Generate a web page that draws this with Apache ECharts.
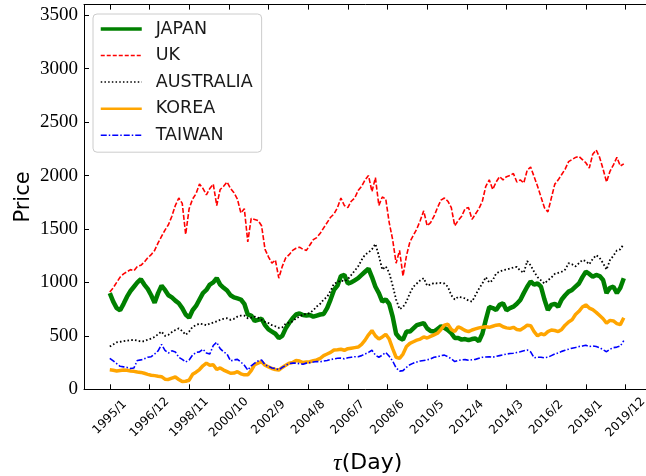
<!DOCTYPE html>
<html>
<head>
<meta charset="utf-8">
<script src="https://cdn.jsdelivr.net/npm/echarts@6/dist/echarts.min.js"></script>
<style>
  html, body { margin: 0; padding: 0; background: #ffffff; }
  #chart { width: 646px; height: 476px; }
</style>
</head>
<body>
<div id="chart"></div>
<script>
// Bottom-axis tick labels (year/month)
const tickLabels = ['1995/1', '1996/12', '1998/11', '2000/10', '2002/9', '2004/8', '2006/7',
  '2008/6', '2010/5', '2012/4', '2014/3', '2016/2', '2018/1', '2019/12'];
// Left-axis tick labels
const priceTicks = [0, 500, 1000, 1500, 2000, 2500, 3000, 3500];

// Index levels sampled every second month from 1995/1 (six samples per year)
const japan = [
  900, 820, 760, 740, 800, 867,
  920, 960, 1000, 1030, 980, 940,
  880, 810, 900, 970, 930, 880,
  860, 830, 805, 760, 700, 670,
  740, 780, 840, 900, 930, 980,
  1000, 1040, 980, 950, 925, 880,
  860, 850, 840, 800, 700, 690,
  640, 650, 660, 600, 560, 540,
  520, 480, 500, 570, 620, 665,
  700, 710, 695, 690, 695, 680,
  690, 700, 705, 760, 840, 930,
  970, 1060, 1070, 990, 1000, 1020,
  1040, 1070, 1100, 1130, 1050, 960,
  900, 820, 840, 800, 680, 520,
  480, 465, 540, 540, 570, 600,
  610, 620, 570, 545, 540, 565,
  590, 575, 555, 525, 480, 480,
  465, 470, 460, 470, 475, 450,
  520, 650, 770, 760, 742, 790,
  805, 740, 760, 773, 800, 836,
  900, 960, 1010, 980, 990, 960,
  840, 742, 790, 800, 773, 840,
  880, 914, 930, 960, 990, 1050,
  1100, 1080, 1054, 1070, 1060, 1023,
  900, 950, 960, 900, 950, 1040
];
const uk = [
  910, 950, 1000, 1050, 1080, 1100,
  1120, 1110, 1150, 1160, 1190, 1230,
  1260, 1300, 1370, 1430, 1490, 1540,
  1620, 1720, 1790, 1740, 1450, 1690,
  1780, 1830, 1920, 1880, 1820, 1880,
  1920, 1720, 1870, 1900, 1940, 1880,
  1840, 1780, 1650, 1690, 1380, 1600,
  1590, 1580, 1530, 1310, 1240, 1180,
  1210, 1040, 1150, 1230, 1260, 1300,
  1320, 1330, 1310, 1300, 1350, 1400,
  1420, 1460, 1510, 1560, 1610, 1640,
  1700, 1790, 1720, 1700, 1760, 1790,
  1860, 1900, 1960, 2000, 1850, 1980,
  1720, 1800, 1780, 1560, 1400, 1180,
  1300, 1060, 1250, 1380, 1440, 1500,
  1580, 1670, 1530, 1560, 1620, 1700,
  1770, 1790, 1760, 1700, 1530, 1580,
  1620, 1690, 1700, 1590, 1640, 1690,
  1760, 1900, 1960, 1870, 1940, 1990,
  1960, 1990, 2000, 2020, 1940, 1960,
  1930, 2050, 2080, 1990, 1900, 1800,
  1700, 1660, 1790, 1920, 1960, 2010,
  2060, 2130, 2150, 2170, 2180, 2150,
  2120, 2070, 2200, 2240, 2170, 2060,
  1940, 2040, 2100, 2170, 2090, 2110
];
const australia = [
  400, 420, 440, 445, 450, 455,
  460, 462, 455, 448, 450, 465,
  475, 490, 515, 540, 500, 510,
  535, 555, 570, 545, 510, 540,
  585, 600, 615, 610, 600, 615,
  625, 635, 650, 660, 665, 650,
  660, 680, 690, 690, 665, 670,
  680, 670, 650, 630, 620, 600,
  590, 575, 580, 615, 625, 635,
  665, 680, 700, 705, 715, 740,
  775, 800, 840, 865, 920, 990,
  1000, 1020, 1010, 1030, 1070, 1110,
  1150, 1210, 1260, 1280, 1310, 1360,
  1250, 1120, 1150, 1090, 970, 840,
  750, 770, 820, 900, 960, 990,
  1020, 1040, 970, 980, 995, 990,
  995, 990, 960, 880, 840, 865,
  860, 850, 830, 820, 880, 940,
  990, 1050, 1000, 1020, 1085, 1100,
  1115, 1120, 1130, 1140, 1145, 1110,
  1090, 1200, 1160, 1100, 1050, 1020,
  990, 1020, 1045, 1080, 1090, 1100,
  1120, 1180, 1170, 1150, 1180, 1210,
  1200, 1170, 1220, 1255, 1230, 1180,
  1120, 1210, 1250, 1300, 1310, 1360
];
const korea = [
  182, 178, 172, 176, 180, 178,
  172, 168, 162, 158, 150, 140,
  132, 128, 122, 118, 95, 92,
  105, 115, 92, 72, 75, 85,
  140, 160, 185, 220, 245, 225,
  230, 185, 200, 180, 165, 150,
  152, 165, 145, 135, 135, 175,
  230, 245, 258, 225, 210, 195,
  185, 180, 205, 225, 245, 250,
  270, 265, 250, 255, 258, 268,
  275, 290, 315, 330, 345, 368,
  370, 375, 365, 380, 385, 390,
  395, 420, 460, 510, 550, 500,
  470, 490, 515, 470, 380, 300,
  290, 330, 400, 430, 445, 460,
  470, 490, 480, 495, 510, 525,
  560, 600, 610, 560, 540, 585,
  570, 550, 540, 555, 565, 575,
  580, 585, 580, 590, 600, 605,
  585, 575, 570, 580, 560, 555,
  575, 600, 595, 540, 500, 520,
  510, 540, 555, 550, 540, 560,
  600, 630, 650, 700, 730, 770,
  790, 760, 745, 720, 690, 660,
  620, 645, 640, 615, 605, 670
];
const taiwan = [
  290, 265, 240, 215, 210, 205,
  195, 200, 270, 275, 285, 300,
  305, 330, 360, 420, 365, 340,
  360, 350, 300, 280, 255, 275,
  320, 345, 350, 375, 340, 330,
  410, 440, 380, 350, 330, 265,
  275, 280, 255, 225, 180, 220,
  245, 265, 275, 230, 215, 200,
  195, 182, 205, 225, 240, 245,
  245, 240, 235, 245, 250, 255,
  260, 258, 265, 270, 278, 285,
  290, 292, 285, 295, 300, 305,
  305, 315, 330, 345, 365, 320,
  300, 320, 345, 310, 265, 200,
  170, 175, 205, 230, 245, 255,
  265, 270, 275, 285, 300, 305,
  315, 320, 305, 285, 260, 270,
  275, 278, 272, 276, 280, 290,
  300, 302, 305, 300, 308, 315,
  322, 330, 335, 338, 345, 352,
  360, 368, 350, 295, 300, 300,
  295, 300, 315, 330, 340, 355,
  365, 375, 385, 392, 400, 405,
  412, 400, 405, 400, 390, 370,
  352, 375, 390, 395, 405, 455
];

// Month offset from 1995/1 for a "year/month" label
function monthIndex(label) {
  const parts = label.split('/').map(Number);
  return (parts[0] - 1995) * 12 + parts[1] - 1;
}
const tickMonths = tickLabels.map(monthIndex);
const sampleMonth = i => i * 2;
const toPoints = arr => arr.map((v, i) => [sampleMonth(i), v]);

const black = '#000000';
const xMin = -14.95, xMax = 313.95;

const chart = echarts.init(document.getElementById('chart'), null, { renderer: 'canvas' });

const frameLine = { show: true, onZero: false, lineStyle: { color: black, width: 1 } };
const noMarker = { opacity: 0 };

const option = {
  animation: false,
  backgroundColor: '#ffffff',
  textStyle: { fontFamily: 'DejaVu Sans' },
  grid: { left: 84, right: -5.3, top: 4.6, bottom: 86.7, containLabel: false, outerBoundsMode: 'none' },
  legend: {
    orient: 'vertical',
    left: 93,
    top: 14,
    padding: [6, 9, 8, 6],
    itemGap: 8.55,
    itemWidth: 41,
    itemHeight: 18,
    backgroundColor: 'rgba(255,255,255,0.8)',
    borderColor: '#cccccc',
    borderWidth: 1,
    borderRadius: 4,
    selectedMode: false,
    formatter: name => '{s|}{n|' + name + '}',
    textStyle: {
      rich: {
        s: { width: 9 },
        n: { fontFamily: 'DejaVu Sans', fontSize: 17.5, lineHeight: 18, color: '#1a1a1a' }
      }
    },
    data: [
      { name: 'JAPAN', itemStyle: noMarker, lineStyle: { width: 3.5 } },
      { name: 'UK', itemStyle: noMarker, lineStyle: { width: 1.5, type: [4, 2] } },
      { name: 'AUSTRALIA', itemStyle: noMarker, lineStyle: { width: 1.5, type: [1.5, 2.2] } },
      { name: 'KOREA', itemStyle: noMarker, lineStyle: { width: 2.5 } },
      { name: 'TAIWAN', itemStyle: noMarker, lineStyle: { width: 1.5, type: [6, 2, 1.5, 2] } }
    ]
  },
  xAxis: [
    {
      type: 'value', position: 'bottom', min: xMin, max: xMax,
      axisLine: frameLine,
      axisTick: { show: true, inside: true, length: 5, customValues: tickMonths, lineStyle: { color: black, width: 1 } },
      axisLabel: {
        show: true, customValues: tickMonths,
        formatter: v => { const k = tickMonths.indexOf(Math.round(v)); return k >= 0 ? tickLabels[k] : ''; },
        rotate: 45, align: 'center', verticalAlign: 'middle', margin: 28,
        fontFamily: 'DejaVu Sans', fontSize: 12, color: black
      },
      splitLine: { show: false },
      name: '{t|τ}{d|(Day)}',
      nameLocation: 'middle',
      nameGap: 62,
      nameMoveOverlap: false,
      nameTextStyle: {
        rich: {
          t: { fontFamily: 'Liberation Serif', fontStyle: 'italic', fontSize: 24, color: black },
          d: { fontFamily: 'DejaVu Sans', fontSize: 22, color: black }
        }
      }
    },
    {
      type: 'value', position: 'top', min: xMin, max: xMax,
      axisLine: frameLine,
      axisTick: { show: true, inside: true, length: 5, customValues: tickMonths, lineStyle: { color: black, width: 1 } },
      axisLabel: { show: false },
      splitLine: { show: false }
    }
  ],
  yAxis: [
    {
      type: 'value', position: 'left', min: 0, max: 3600,
      axisLine: frameLine,
      axisTick: { show: true, inside: true, length: 5, customValues: priceTicks, lineStyle: { color: black, width: 1 } },
      axisLabel: {
        show: true, customValues: priceTicks, margin: 6,
        formatter: v => String(v),
        fontFamily: 'Liberation Serif', fontSize: 19, color: black
      },
      splitLine: { show: false },
      name: 'Price',
      nameLocation: 'middle',
      nameGap: 50,
      nameMoveOverlap: false,
      nameTextStyle: { fontFamily: 'DejaVu Sans', fontSize: 21, color: black }
    },
    {
      type: 'value', position: 'right', min: 0, max: 3600,
      axisLine: frameLine,
      axisTick: { show: true, inside: true, length: 5, customValues: priceTicks, lineStyle: { color: black, width: 1 } },
      axisLabel: { show: false },
      splitLine: { show: false }
    }
  ],
  series: [
    { name: 'JAPAN', type: 'line', data: toPoints(japan), symbol: 'none', color: '#008000',
      lineStyle: { color: '#008000', width: 4.5 } },
    { name: 'UK', type: 'line', data: toPoints(uk), symbol: 'none', color: '#ff0000',
      lineStyle: { color: '#ff0000', width: 1.6, type: [5, 2] } },
    { name: 'AUSTRALIA', type: 'line', data: toPoints(australia), symbol: 'none', color: black,
      lineStyle: { color: black, width: 1.8, type: [1.6, 2.2] } },
    { name: 'KOREA', type: 'line', data: toPoints(korea), symbol: 'none', color: '#ffa500',
      lineStyle: { color: '#ffa500', width: 3.5 } },
    { name: 'TAIWAN', type: 'line', data: toPoints(taiwan), symbol: 'none', color: '#0000ff',
      lineStyle: { color: '#0000ff', width: 1.6, type: [6, 2, 1.5, 2] } }
  ]
};

chart.setOption(option);
</script>
</body>
</html>
